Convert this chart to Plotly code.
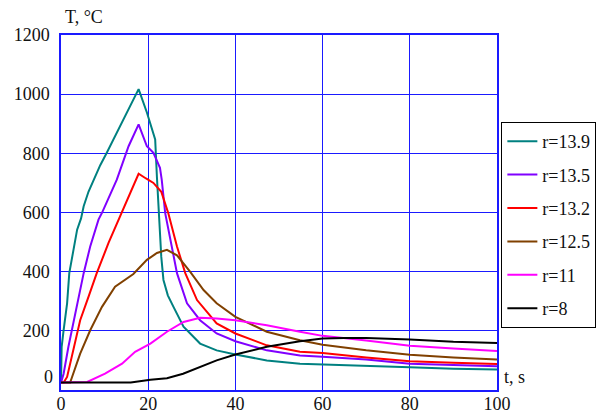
import plotly.graph_objects as go

# ---- data ----
labels = ["r=13.9", "r=13.5", "r=13.2", "r=12.5", "r=11", "r=8"]
colors = ["#008080", "#8000ff", "#ff0000", "#804000", "#ff00ff", "#000000"]

t_139 = [0, 0.15, 0.6, 1.4, 1.9, 2.9, 3.7, 4.6, 5.2, 6.3, 7.5, 9, 10.5, 12.5, 14.3, 16, 17.8,
         19.7, 20.8, 21.6, 22, 22.5, 23, 23.5, 24.5, 25.8, 28.1, 31.9, 35.7, 40, 47.2, 54.8,
         60, 70, 80, 90, 100]
T_139 = [25, 146, 202, 293, 395, 485, 542, 580, 621, 670, 711, 760, 802, 860, 915, 965, 1017,
         938, 881, 847, 720, 570, 450, 372, 320, 281, 214, 157, 134, 120, 100, 89,
         87, 82, 77, 72, 69]

t_135 = [0, 0.6, 1.7, 3.3, 5.2, 6.7, 8.6, 9.4, 11, 12.8, 15.5, 17.8, 19.7, 21.2, 22.7, 23.1,
         23.9, 25.4, 26.6, 28.9, 31.9, 35.7, 40, 47.2, 54.8, 60, 70, 80, 90, 100]
T_135 = [25, 55, 146, 259, 395, 485, 576, 599, 650, 711, 824, 898, 824, 802, 751, 711,
         598, 485, 395, 293, 236, 191, 165, 134, 117, 112, 103, 89, 84, 80]

t_132 = [0, 0.6, 1.4, 2.9, 4.4, 6.3, 8.2, 10.9, 13.2, 15.9, 17.8, 19.5, 21.2, 23.0, 24.6, 26.6,
         28.5, 31.2, 35.7, 40, 47.2, 54.8, 60, 70, 80, 90, 100]
T_132 = [25, 25, 44, 146, 236, 315, 395, 497, 576, 666, 731, 715, 700, 670, 598, 485,
         395, 304, 225, 191, 151, 129, 125, 110, 97, 92, 88]

t_125 = [0, 2.1, 4.4, 6.7, 9.4, 12.4, 16.6, 19.7, 22, 24.3, 26.6, 29.6, 32.7, 35.7, 40, 47.2,
         54.8, 60, 70, 80, 90, 100]
T_125 = [25, 25, 123, 202, 281, 349, 392, 440, 463, 474, 455, 400, 338, 293, 247, 197,
         168, 153, 134, 119, 110, 103]

t_11 = [0, 6, 10.1, 14, 17, 20.5, 24.3, 28.1, 31.9, 35.7, 40, 47.2, 54.8, 60, 70, 80, 90, 100]
T_11 = [25, 27, 55, 89, 129, 157, 197, 230, 244, 242, 236, 219, 197, 183, 167, 150, 140, 132]

t_8 = [0, 16, 20.5, 24.3, 28, 31.9, 35.7, 40, 47.2, 54.8, 60, 65, 70, 80, 90, 100]
T_8 = [25, 25, 35, 40, 55, 78, 100, 120, 146, 165, 174, 176, 176, 171, 163, 159]

x_ticks = [0, 20, 40, 60, 80, 100]
y_ticks = [200, 400, 600, 800, 1000, 1200]

series_t = [t_139, t_135, t_132, t_125, t_11, t_8]
series_T = [T_139, T_135, T_132, T_125, T_11, T_8]

FONT = "Liberation Serif"
GRID = "#1a1aff"

fig = go.Figure()
for lab, col, tt, TT in zip(labels, colors, series_t, series_T):
    fig.add_trace(go.Scatter(x=tt, y=TT, mode="lines", name=lab, legendgroup=lab,
                             line=dict(color=col, width=2)))

fig.update_layout(
    width=605, height=417,
    margin=dict(l=61, r=108, t=35, b=27, autoexpand=False),
    paper_bgcolor="white", plot_bgcolor="white",
    font=dict(family=FONT, size=18, color="#111111"),
    showlegend=True,
    legend=dict(x=1.01, y=0.755, xanchor="left", yanchor="top",
                bgcolor="white", bordercolor="#000000", borderwidth=1,
                font=dict(family=FONT, size=18), tracegroupgap=7,
                itemwidth=30),
    xaxis=dict(range=[0, 100], tickvals=x_ticks, showgrid=True, gridcolor=GRID, gridwidth=1,
               showline=True, linecolor=GRID, linewidth=1.5, mirror=True, zeroline=False,
               ticks="", ticklabelstandoff=-3, automargin=False,
               tickfont=dict(family=FONT, size=18)),
    yaxis=dict(range=[0, 1200], tickvals=y_ticks, showgrid=True, gridcolor=GRID, gridwidth=1,
               showline=True, linecolor=GRID, linewidth=1.5, mirror=True, zeroline=False,
               ticks="", ticklabelstandoff=6, automargin=False,
               tickfont=dict(family=FONT, size=18)),
    annotations=[
        dict(text="T, °C", x=0.005, y=1.05, xref="paper", yref="paper",
             xanchor="left", yanchor="middle", showarrow=False,
             font=dict(family=FONT, size=18)),
        dict(text="t, s", x=1.012, y=0.036, xref="paper", yref="paper",
             xanchor="left", yanchor="middle", showarrow=False,
             font=dict(family=FONT, size=18)),
        dict(text="0", x=0, y=0.036, xref="paper", yref="paper",
             xanchor="right", yanchor="middle", xshift=-6, showarrow=False,
             font=dict(family=FONT, size=18)),
    ],
)

fig.write_html("out.html")
